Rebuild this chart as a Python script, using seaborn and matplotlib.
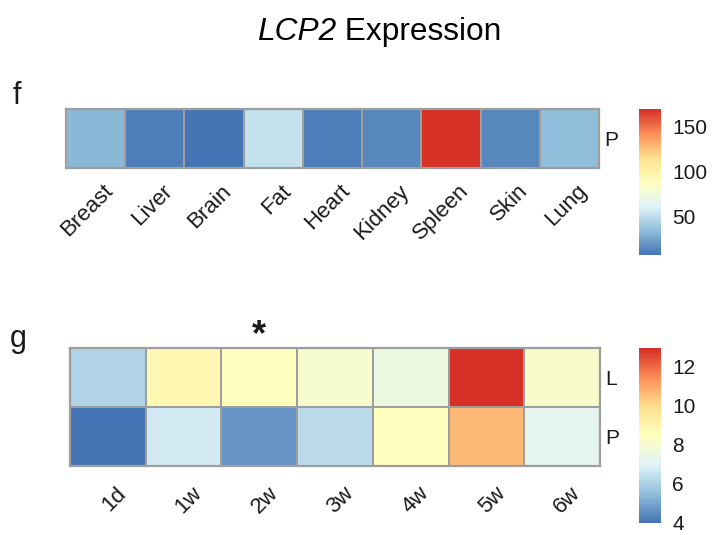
import numpy as np
import pandas as pd
import matplotlib
matplotlib.use("Agg")
import matplotlib.pyplot as plt
from matplotlib.colors import LinearSegmentedColormap
from matplotlib.transforms import ScaledTranslation
import seaborn as sns

# Tissue panel (f): one row "P"
tissues = ["Breast", "Liver", "Brain", "Fat", "Heart", "Kidney", "Spleen", "Skin", "Lung"]
tissue_rows = ["P"]
tissue_values = [32.7, 10.8, 7.5, 52.8, 11.0, 14.0, 170.0, 15.0, 34.3]
tissue_ticks = [50, 100, 150]

# Time-course panel (g): rows "L" and "P"
timepoints = ["1d", "1w", "2w", "3w", "4w", "5w", "6w"]
time_rows = ["L", "P"]
time_L = [6.10, 8.86, 8.55, 8.05, 7.65, 12.95, 8.20]
time_P = [4.00, 6.74, 4.64, 6.31, 8.56, 10.65, 7.27]
time_ticks = [4, 6, 8, 10, 12]
star_column = "2w"

sns.set_theme(style="white")
plt.rcParams["font.family"] = ["Liberation Sans", "DejaVu Sans"]

# reversed RdYlBu ramp, as used by pheatmap by default
ramp = ["#4575B4", "#91BFDB", "#E0F3F8", "#FFFFBF", "#FEE090", "#FC8D59", "#D73027"]
cmap = LinearSegmentedColormap.from_list("rdylbu_r7", ramp, N=100)

W, H = 713, 535
fig = plt.figure(figsize=(W / 100, H / 100), dpi=100)
ink = "#1a1a1a"
grid = "#9e9e9e"


def px_axes(x0, y0, x1, y1):
    return fig.add_axes([x0 / W, 1 - y1 / H, (x1 - x0) / W, (y1 - y0) / H])


def draw_panel(df, ax, cax, ticks, label_pad, label_dx):
    sns.heatmap(df, ax=ax, cbar_ax=cax, cmap=cmap, linewidths=1.4, linecolor=grid,
                vmin=df.values.min(), vmax=df.values.max(),
                cbar_kws={"ticks": ticks})
    for s in ax.spines.values():
        s.set_visible(True)
        s.set_color(grid)
        s.set_linewidth(1.6)
    ax.yaxis.tick_right()
    ax.set_yticklabels(df.index, rotation=0, fontsize=15, color=ink)
    ax.set_xticklabels(df.columns, rotation=45, ha="right", rotation_mode="anchor",
                       fontsize=16, color=ink)
    ax.tick_params(axis="y", length=0, pad=4)
    ax.tick_params(axis="x", length=0, pad=label_pad)
    ax.set_xlabel("")
    ax.set_ylabel("")
    shift = ScaledTranslation(label_dx / 100, 0, fig.dpi_scale_trans)
    for t in ax.get_xticklabels():
        t.set_transform(t.get_transform() + shift)
    cbar = ax.collections[0].colorbar
    cbar.outline.set_visible(False)
    cbar.ax.tick_params(length=0, pad=8, labelsize=15, labelcolor=ink)


# panel f
df_f = pd.DataFrame([tissue_values], index=tissue_rows, columns=tissues)
ax_f = px_axes(66, 109, 599, 168)
cax_f = px_axes(639, 109, 661, 255)
draw_panel(df_f, ax_f, cax_f, tissue_ticks, label_pad=9, label_dx=7)

# panel g
df_g = pd.DataFrame([time_L, time_P], index=time_rows, columns=timepoints)
ax_g = px_axes(70, 348, 600, 466)
cax_g = px_axes(639, 348, 661, 523)
draw_panel(df_g, ax_g, cax_g, time_ticks, label_pad=12, label_dx=8)

# significance mark above the 2w column
col = timepoints.index(star_column) + 0.5
ax_g.annotate("*", xy=(col, 0), xycoords="data", xytext=(0, 2), textcoords="offset points",
              ha="center", va="baseline", fontsize=26, fontweight="bold", color=ink,
              annotation_clip=False)

# panel letters
fig.text(13 / W, 1 - 104 / H, "f", fontsize=22, color=ink, va="baseline", ha="left")
fig.text(10 / W, 1 - 347 / H, "g", fontsize=22, color=ink, va="baseline", ha="left")

# title with italic gene symbol
title_y = 1 - 40 / H
t1 = fig.text(257 / W, title_y, "LCP2", fontsize=22.8, style="italic", color="black",
              va="baseline", ha="left")
fig.canvas.draw()
bb = t1.get_window_extent(fig.canvas.get_renderer())
fig.text(bb.x1 / W, title_y, " Expression", fontsize=22.8, color="black",
         va="baseline", ha="left")

fig.savefig("out.png", dpi=100, facecolor="white")
